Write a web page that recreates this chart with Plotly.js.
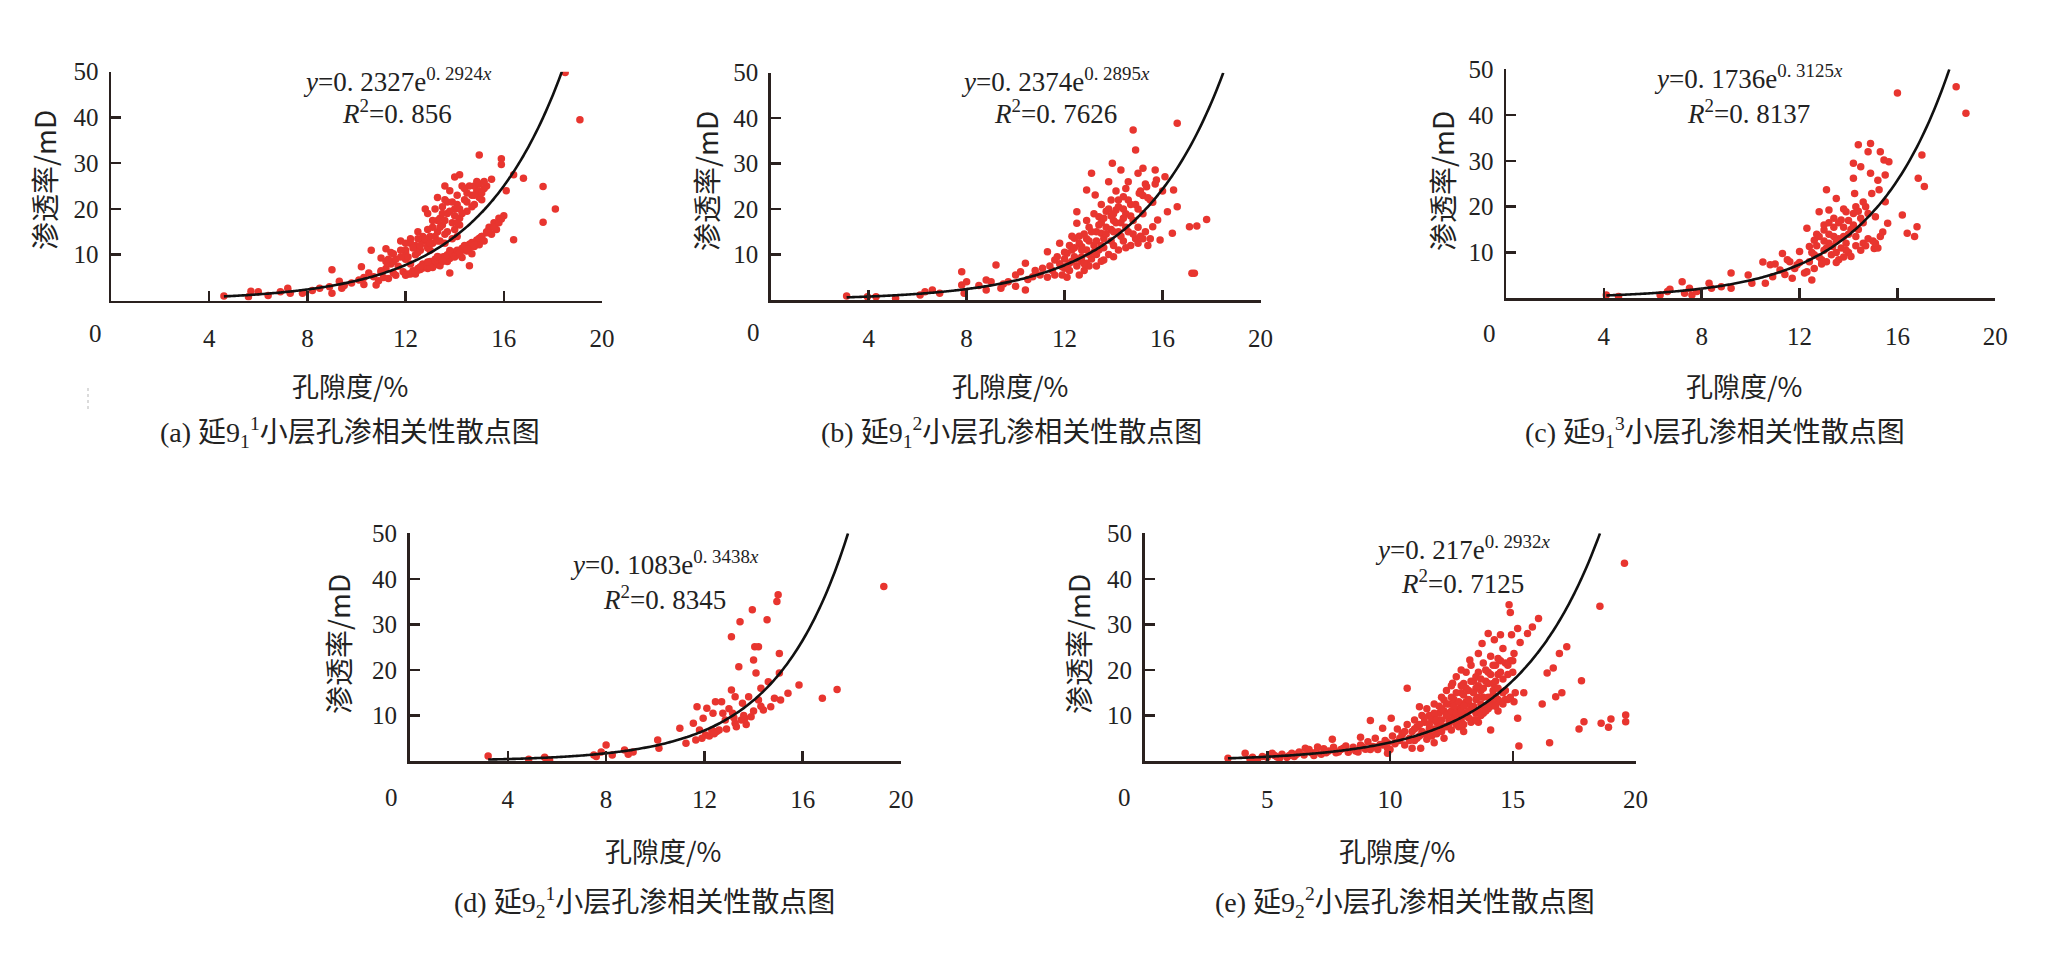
<!DOCTYPE html>
<html>
<head>
<meta charset="utf-8">
<script src="https://cdn.plot.ly/plotly-3.0.1.min.js"></script>
<style>html,body{margin:0;padding:0;background:#fff;}#chart{width:2050px;height:968px;}</style>
</head>
<body>
<div id="chart"></div>
<script>
// ---------------- DATA ----------------
const panelIds = ['a','b','c','d','e'];
const panelCaptions = [
  '(a) 延9<sub>1</sub><sup>1</sup>小层孔渗相关性散点图',
  '(b) 延9<sub>1</sub><sup>2</sup>小层孔渗相关性散点图',
  '(c) 延9<sub>1</sub><sup>3</sup>小层孔渗相关性散点图',
  '(d) 延9<sub>2</sub><sup>1</sup>小层孔渗相关性散点图',
  '(e) 延9<sub>2</sub><sup>2</sup>小层孔渗相关性散点图'
];
const xAxisTitle = '孔隙度/%';
const yAxisTitle = '渗透率/mD';
const fitA = [0.2327, 0.2374, 0.1736, 0.1083, 0.217];
const fitB = [0.2924, 0.2895, 0.3125, 0.3438, 0.2932];
const fitAText = ['0.2327', '0.2374', '0.1736', '0.1083', '0.217'];
const fitBText = ['0.2924', '0.2895', '0.3125', '0.3438', '0.2932'];
const fitR2Text = ['0.856', '0.7626', '0.8137', '0.8345', '0.7125'];
const curveStart = [4.6, 3.1, 4.1, 3.2, 3.4];
const xTicks4 = [4, 8, 12, 16, 20];
const xTicks5 = [5, 10, 15, 20];
const yTicks = [10, 20, 30, 40, 50];

const aPts = [[4.6,1.0],[5.6,0.8],[5.7,2.0],[6.0,1.9],[6.4,1.1],[6.9,1.9],[7.2,2.7],[7.3,1.6],[7.8,1.6],[8.2,2.2],[8.5,2.7],[8.9,3.0],[9.0,1.6],[9.0,6.7],[9.3,4.2],[9.4,2.7],[9.5,3.3],[9.8,3.8],[10.1,4.5],[10.2,7.4],[10.3,3.5],[10.3,5.0],[10.5,6.0],[10.6,11.0],[10.7,5.2],[10.8,3.4],[10.9,4.3],[11.0,9.3],[11.0,6.3],[11.1,5.0],[11.2,7.0],[11.2,11.3],[11.3,4.8],[11.4,8.0],[11.5,6.0],[11.5,10.2],[11.6,5.5],[11.7,7.5],[11.8,13.0],[11.9,6.3],[12.0,9.0],[12.0,11.0],[12.1,5.8],[12.2,8.0],[12.2,13.5],[12.3,6.5],[12.4,10.0],[12.4,12.0],[12.5,7.0],[12.5,15.0],[12.6,11.0],[12.7,8.0],[12.7,13.0],[12.8,20.0],[12.8,7.5],[12.9,11.5],[12.9,19.0],[13.0,14.0],[13.0,8.5],[13.1,12.5],[13.1,16.0],[13.2,20.0],[13.2,9.0],[13.3,15.0],[13.3,7.8],[13.4,13.0],[13.4,18.0],[13.5,9.5],[13.5,16.5],[13.6,22.0],[13.6,14.5],[13.7,8.5],[13.7,19.0],[13.8,24.0],[13.8,6.0],[13.9,17.0],[13.9,10.0],[14.0,27.0],[14.0,15.5],[14.1,10.5],[14.1,21.0],[14.2,27.5],[14.2,18.0],[14.3,11.0],[14.3,25.0],[14.4,22.0],[14.4,12.0],[14.5,19.5],[14.6,11.5],[14.6,7.6],[14.7,23.0],[14.7,12.5],[14.8,21.0],[14.9,13.0],[14.9,24.0],[15.0,31.8],[15.0,25.5],[15.1,14.0],[15.1,22.0],[15.2,24.5],[15.3,15.0],[15.3,25.0],[15.4,16.0],[15.5,26.5],[15.6,17.0],[15.8,18.0],[15.9,31.0],[15.9,29.7],[16.0,18.5],[16.1,24.0],[16.4,27.5],[16.4,13.3],[16.8,26.7],[17.6,24.9],[17.6,17.1],[18.1,20.0],[18.5,49.8],[19.1,39.5],
  [12.0,5.5],[12.3,6.2],[12.6,6.8],[12.9,7.0],[13.0,7.5],[13.2,8.0],[13.5,8.5],[13.8,9.2],[14.0,9.5],[14.2,10.0],[14.5,10.8],[14.8,11.8],[15.0,12.2],[15.2,13.0],[15.5,14.5],[15.7,15.5],
  [12.0,10.5],[12.2,12.5],[12.5,10.5],[13.0,11.0],[13.3,17.5],[13.5,20.5],[13.7,21.5],[14.0,20.0],[14.2,16.5],[14.5,23.5],[14.8,25.0],[15.0,22.5],[12.9,12.0],[13.6,12.5],[13.9,13.5],[14.1,14.0],[11.5,8.5],[11.8,9.5],[11.3,9.0],[12.7,14.0],[13.1,7.2],[13.4,7.6],[14.3,9.4],[14.7,10.2],[12.4,5.8]];
const aPtsBand = [[12.2,5.8],[12.4,6.3],[12.5,6.6],[12.7,7.1],[12.8,7.5],[13.0,8.0],[13.1,8.3],[13.2,8.6],[13.3,8.9],[13.4,9.1],[13.6,9.6],[13.7,10.0],[13.9,10.3],[14.0,10.6],[14.1,11.0],[14.3,11.4],[14.4,11.8],[14.6,12.3],[14.7,12.7],[14.9,13.2],[15.0,13.6],[15.1,14.0],[15.3,14.8],[15.4,15.3],[15.6,16.0],[15.8,17.0],[15.9,17.8],[13.0,7.3],[13.5,8.7],[14.2,10.5],[14.8,12.2],[12.6,7.4],[13.3,9.6],[13.8,10.9],[14.5,11.2],[12.9,8.4],
  [11.0,6.5],[11.2,8.5],[11.4,10.5],[11.6,9.0],[11.8,11.0],[12.0,12.5],[12.1,9.5],[12.3,11.5],[12.5,13.5],[12.6,12.0],[12.8,13.5],[12.9,15.5],[13.0,12.5],[13.1,17.5],[13.2,14.0],[13.3,13.0],[13.4,16.0],[13.5,19.0],[13.6,17.5],[13.7,15.0],[13.8,19.5],[13.9,21.5],[14.0,18.5],[14.1,23.0],[14.2,20.0],[14.3,19.0],[14.4,24.5],[14.5,21.5],[14.6,25.0],[14.7,20.5],[14.8,23.0],[14.9,26.0],[15.0,24.0],[15.1,23.5],[15.2,26.0],[13.3,22.5],[13.6,25.0],[14.1,17.0]];

const bPts = [[3.1,0.9],[3.95,0.7],[4.3,0.7],[5.1,0.4],[6.1,1.1],[6.3,1.8],[6.6,2.2],[6.9,1.5],[7.8,6.2],[7.8,3.3],[7.9,1.5],[8.0,4.0],[8.8,4.4],[8.8,2.2],[9.2,7.7],[9.4,2.6],[9.7,4.0],[10.0,5.5],[10.2,6.2],[10.4,8.1],[10.4,2.2],[10.7,5.1],[11.0,5.5],[11.3,10.6],[11.6,8.8],[11.8,12.5],[11.9,7.3],[12.1,10.3],[12.2,8.1],[12.4,13.6],[12.5,16.9],[12.5,19.4],[12.7,11.7],[12.9,24.2],[12.9,8.1],[13.1,27.9],[13.25,23.1],[13.4,18.3],[13.5,14.7],[13.6,8.8],[13.8,26.0],[13.95,30.1],[14.1,19.8],[14.3,28.6],[14.4,22.7],[14.6,26.0],[14.8,37.4],[14.9,33.0],[15.0,27.9],[15.05,23.5],[15.2,29.0],[15.35,24.9],[15.6,16.1],[15.7,28.6],[15.75,26.4],[15.8,17.6],[15.9,13.2],[16.1,27.1],[16.2,19.4],[16.4,14.7],[16.45,24.2],[16.6,38.9],[16.6,20.5],[17.1,16.1],[17.2,5.9],[17.3,5.9],[17.4,16.3],[17.8,17.7],
  [11.5,6.5],[11.7,9.5],[11.9,5.5],[12.0,7.0],[12.0,9.0],[12.2,6.5],[12.3,11.0],[12.4,9.5],[12.5,7.5],[12.6,12.5],[12.7,9.5],[12.8,14.5],[12.8,6.5],[12.9,11.0],[13.0,13.0],[13.0,16.0],[13.1,9.0],[13.2,12.0],[13.2,19.0],[13.3,15.0],[13.3,7.5],[13.4,11.0],[13.5,17.0],[13.5,21.0],[13.6,13.5],[13.7,16.0],[13.7,19.5],[13.8,10.0],[13.9,15.5],[13.9,22.0],[14.0,17.5],[14.0,12.0],[14.1,24.0],[14.2,15.0],[14.2,20.5],[14.3,17.0],[14.4,13.0],[14.5,19.0],[14.5,24.5],[14.6,15.0],[14.7,12.0],[14.7,21.0],[14.8,17.5],[14.9,13.5],[15.0,20.0],[15.1,14.0],[15.2,23.0],[15.3,25.5],[15.4,12.0],[15.5,22.0],[10.8,6.5],[11.1,7.0],[11.3,5.0],[10.5,4.5],[10.0,3.0],[9.5,3.5],[9.0,4.0],[8.5,3.2],[12.1,5.0],[12.6,5.5],[13.0,7.5],[13.5,8.5],[14.0,9.5],[14.5,11.5],[15.0,12.5],[15.2,13.5],[15.6,21.5],[15.7,25.5],[16.0,24.0],[12.3,14.0],[12.9,17.5],[13.6,11.5],[14.2,11.0],[13.3,10.0],[12.7,8.5],[14.4,18.0],[13.9,18.5]];
const bPtsCore = [[11.4,7.5],[11.6,5.5],[11.8,8.0],[12.0,10.5],[12.1,7.5],[12.2,12.0],[12.3,8.5],[12.4,11.5],[12.5,9.0],[12.6,14.0],[12.7,11.0],[12.8,8.0],[12.9,13.5],[13.0,10.0],[13.1,15.0],[13.2,10.5],[13.3,13.0],[13.4,16.5],[13.5,12.0],[13.6,18.0],[13.7,14.5],[13.8,20.0],[13.9,13.0],[14.0,15.0],[14.0,19.0],[14.1,17.0],[14.2,22.0],[14.3,14.0],[14.4,20.0],[14.5,16.0],[14.6,22.0],[14.7,18.5],[14.8,14.5],[14.9,21.0],[15.0,16.0],[15.1,24.0],[15.2,19.0],[15.3,15.0],[15.4,22.5],[15.5,13.5]];

const cPts = [[4.1,0.7],[4.6,0.4],[6.3,0.7],[6.6,1.5],[6.7,2.0],[7.2,3.6],[7.3,1.1],[7.5,2.2],[7.6,0.7],[7.8,1.5],[8.3,3.3],[8.4,2.2],[8.8,2.5],[9.2,2.2],[9.2,5.5],[9.9,5.1],[10.05,3.3],[10.5,7.9],[10.6,3.3],[10.8,7.3],[10.9,4.7],[11.2,6.2],[11.3,9.8],[11.5,8.4],[11.7,4.4],[11.9,7.3],[12.0,10.2],[12.2,5.5],[12.3,15.3],[12.4,11.3],[12.5,4.0],[12.6,12.7],[12.8,18.9],[12.9,8.4],[13.0,14.9],[13.1,23.7],[13.2,19.3],[13.35,11.3],[13.4,13.5],[13.5,21.8],[13.6,8.4],[13.7,17.1],[13.8,13.5],[13.9,18.9],[14.1,9.1],[14.2,29.5],[14.2,26.2],[14.25,22.9],[14.3,20.0],[14.4,33.5],[14.5,28.7],[14.6,12.0],[14.7,20.0],[14.8,32.0],[14.9,33.8],[14.9,27.3],[14.95,22.9],[15.05,10.9],[15.1,17.8],[15.2,25.8],[15.25,23.7],[15.3,32.0],[15.45,30.2],[15.5,26.9],[15.5,21.1],[15.6,16.4],[15.65,29.8],[16.0,44.8],[16.2,18.2],[16.4,14.2],[16.7,13.5],[16.8,15.6],[16.85,26.2],[17.0,31.3],[17.1,24.4],[18.4,46.2],[18.8,40.4],
  [12.5,10.0],[12.7,11.5],[12.8,9.0],[13.0,10.5],[13.0,16.0],[13.2,12.0],[13.3,9.5],[13.4,15.5],[13.5,10.0],[13.6,16.5],[13.7,11.0],[13.8,19.5],[13.9,12.0],[14.0,17.0],[14.0,10.0],[14.2,16.0],[14.3,11.5],[14.4,19.0],[14.5,17.5],[14.6,21.0],[14.7,11.5],[14.8,13.0],[15.0,12.5],[15.2,11.0],[15.3,13.5],[12.9,7.5],[12.6,6.5],[12.3,5.8],[12.0,7.8],[11.8,6.5],[11.6,8.0],[11.4,5.2],[11.0,7.5],[13.1,8.0],[13.5,7.8],[12.7,14.0],[13.2,16.5],[14.1,15.0],[13.8,9.0],
  [13.0,12.5],[13.2,14.0],[13.4,17.5],[13.6,13.0],[13.8,15.5],[14.0,14.0],[14.2,18.5],[14.4,15.0],[14.6,16.5],[14.8,18.5],[12.4,8.0],[12.6,9.5],[12.8,13.5],[13.1,11.0],[13.5,12.5],[13.9,10.5],[14.3,13.5],[14.5,10.5],[15.1,12.0],[15.4,14.5]];

const dPts = [[3.2,1.1],[4.85,0.4],[5.5,0.8],[5.7,0.2],[7.5,1.3],[7.6,1.0],[7.8,2.0],[8.0,3.5],[8.25,1.3],[8.75,2.4],[8.9,1.5],[9.1,2.0],[10.1,4.6],[10.15,2.8],[11.0,7.2],[11.25,3.9],[11.55,8.3],[11.65,4.6],[11.7,11.9],[11.8,6.8],[11.95,9.4],[12.05,5.7],[12.1,11.6],[12.3,6.8],[12.35,10.5],[12.45,13.0],[12.6,6.8],[12.7,13.0],[12.75,10.5],[12.85,9.0],[13.1,27.3],[13.1,15.6],[13.15,10.5],[13.25,14.1],[13.25,8.3],[13.4,20.7],[13.45,30.6],[13.55,12.7],[13.65,9.4],[13.8,14.1],[13.9,9.7],[13.95,33.2],[14.0,22.2],[14.05,25.1],[14.1,19.3],[14.2,25.1],[14.2,13.4],[14.3,16.0],[14.4,11.2],[14.55,31.0],[14.6,17.4],[14.7,11.9],[14.85,13.8],[14.95,35.0],[15.0,36.5],[15.05,23.6],[15.05,19.3],[15.1,13.4],[15.4,14.9],[15.85,16.7],[16.8,13.8],[17.4,15.7],[19.3,38.3],
  [13.3,7.5],[13.5,9.0],[13.7,8.0],[12.9,7.0],[13.0,11.5],[12.5,6.5],[12.2,5.5],[14.0,11.0],[14.3,12.0],[13.2,9.5],[13.6,10.0],[12.4,6.0],[11.9,5.0]];

const ePts = [[3.4,0.6],[4.1,1.7],[4.3,0.4],[4.6,0.2],[5.2,1.7],[5.5,0.6],[6.0,1.7],[6.55,2.8],[7.05,3.1],[7.65,4.8],[8.1,2.8],[8.8,5.2],[9.2,8.9],[9.45,3.1],[9.7,7.2],[9.9,1.7],[10.05,9.4],[10.5,6.1],[10.7,16.0],[10.9,2.8],[11.2,11.9],[11.25,2.8],[11.8,9.7],[12.2,13.4],[12.55,17.1],[12.9,20.0],[13.25,22.2],[13.6,23.6],[13.75,25.8],[14.0,28.0],[14.1,6.8],[14.25,26.6],[14.5,27.7],[14.6,24.7],[14.85,34.3],[14.9,32.6],[14.95,27.7],[15.05,23.6],[15.05,13.0],[15.1,15.0],[15.2,9.4],[15.2,29.1],[15.25,3.3],[15.3,26.0],[15.45,15.0],[15.6,28.0],[15.8,29.4],[16.05,31.3],[16.2,12.5],[16.4,19.3],[16.5,4.0],[16.65,20.4],[16.75,14.1],[16.9,23.6],[17.0,15.0],[17.2,25.1],[17.7,7.0],[17.8,17.6],[17.9,8.6],[18.55,34.0],[18.6,8.3],[18.9,7.4],[19.0,9.2],[19.55,43.4],[19.6,8.6],[19.6,10.1],
  [4.8,1.0],[5.0,0.8],[5.3,1.2],[5.6,1.5],[5.8,0.8],[6.1,1.0],[6.3,2.0],[6.5,1.3],[6.7,2.5],[6.8,1.8],[7.0,2.0],[7.2,1.5],[7.3,2.7],[7.5,2.2],[7.7,3.0],[7.8,1.8],[8.0,2.5],[8.2,3.3],[8.3,1.9],[8.5,3.0],[8.6,2.2],[8.8,3.5],[9.0,2.6],[9.1,4.2],[9.3,3.2],[9.4,5.0],[9.6,3.6],[9.8,4.5],[9.9,2.8],[10.1,5.5],[10.2,3.8],[10.3,7.0],[10.4,4.5],[10.5,5.8],[10.6,3.5],[10.7,8.0],[10.8,5.0],[10.9,6.5],[11.0,9.0],[11.0,4.5],[11.1,7.5],[11.2,5.5],[11.3,10.0],[11.3,6.5],[11.4,8.5],[11.5,4.8],[11.5,11.5],[11.6,7.0],[11.7,9.0],[11.7,5.5],[11.8,12.5],[11.9,6.0],[12.0,10.5],[12.0,8.0],[12.1,14.0],[12.1,6.5],[12.2,11.0],[12.3,7.5],[12.3,15.5],[12.4,9.0],[12.4,12.5],[12.5,6.8],[12.5,16.5],[12.6,10.0],[12.6,13.5],[12.7,8.0],[12.7,18.5],[12.8,11.5],[12.8,7.5],[12.9,15.0],[12.9,9.0],[13.0,17.0],[13.0,10.5],[13.0,8.0],[13.1,13.0],[13.1,19.5],[13.2,9.5],[13.2,15.5],[13.3,11.5],[13.3,21.0],[13.4,9.0],[13.4,17.5],[13.5,13.5],[13.5,10.5],[13.6,19.5],[13.6,11.0],[13.7,15.5],[13.7,12.5],[13.8,21.5],[13.8,10.5],[13.9,17.5],[13.9,12.0],[14.0,19.5],[14.0,11.5],[14.1,23.0],[14.1,13.0],[14.2,17.0],[14.2,12.5],[14.3,21.0],[14.3,14.0],[14.4,19.0],[14.4,13.5],[14.5,22.0],[14.6,15.0],[14.7,21.5],[14.7,13.5],[14.8,19.0],[14.9,14.0],[14.9,22.0],[13.0,6.5],[12.2,5.0],[11.8,4.0],[12.6,8.8],[13.2,12.5],[13.5,16.0],[12.9,12.5],[13.8,14.0],[14.2,15.5],[12.4,10.5],[11.9,8.5],[11.6,10.0],[12.0,12.0],[13.6,8.5],[14.4,11.0]];
const ePtsCore = [[10.2,4.0],[10.4,5.0],[10.6,6.5],[10.8,4.5],[11.0,7.0],[11.1,5.0],[11.2,8.0],[11.4,6.0],[11.4,9.5],[11.6,8.0],[11.6,5.8],[11.8,7.0],[11.8,10.5],[11.9,9.0],[12.0,6.5],[12.1,9.0],[12.1,11.5],[12.2,7.5],[12.3,10.0],[12.3,12.5],[12.4,8.0],[12.5,11.0],[12.5,14.0],[12.6,9.0],[12.6,12.0],[12.7,10.5],[12.7,15.0],[12.8,9.5],[12.8,13.0],[12.9,11.0],[12.9,16.5],[13.0,12.0],[13.0,14.5],[13.1,10.0],[13.1,16.0],[13.2,11.0],[13.2,13.5],[13.3,17.5],[13.3,8.5],[13.4,12.0],[13.4,15.0],[13.5,18.5],[13.5,9.0],[13.6,14.0],[13.6,16.5],[13.7,10.0],[13.7,18.0],[13.8,12.0],[13.8,16.0],[13.9,20.0],[13.9,11.0],[14.0,14.0],[14.0,17.0],[14.1,12.0],[14.1,19.0],[14.2,21.0],[14.2,14.5],[14.3,17.5],[14.3,12.0],[14.4,16.0],[14.4,22.5],[14.5,13.0],[14.5,19.5],[14.6,12.5],[14.6,18.0],[14.7,15.5],[14.8,21.0],[14.8,13.5],[15.0,22.0],[15.0,19.5],[9.5,2.5],[9.7,3.5],[9.9,4.0],[10.0,2.5],[8.7,2.0],[8.9,3.0],[9.2,2.5],[7.9,2.0],[7.4,1.8],[6.9,1.2],[6.2,1.5],[5.9,1.2],[5.4,0.9],[4.4,0.8]];

const panelPts = [aPts.concat(aPtsBand), bPts.concat(bPtsCore), cPts, dPts, ePts.concat(ePtsCore)];

// ---------------- LAYOUT GEOMETRY (pixels in a 2050x968 page) ----------------
const W = 2050, H = 968;
const px = v => v / W;
const py = v => 1 - v / H;
// [left(x=0), right(x=20), bottom(y=0), top(y=50)]
const boxes = [
  [111, 602, 300.5, 71.7],
  [770.7, 1260.5, 300, 72.7],
  [1506, 1995.3, 298.3, 69.3],
  [409.5, 901, 761, 533.3],
  [1144.5, 1635.5, 761, 533.3]
];
const zeroLabelPos = [[95, 333], [753.5, 332], [1489, 333], [391.7, 797], [1124, 797]];
const eqPos = [[397, 80, 112], [1055, 80, 112], [1748, 77, 112], [664, 563, 598], [1462, 548, 582]];
const xTitlePos = [[350, 386], [1010, 386], [1744, 386], [663, 850], [1397, 850]];
const yTitlePos = [[44, 180], [706, 181], [1442, 181], [338, 644], [1078, 644]];
const captionPos = [[350, 432], [1011, 432], [1715, 432], [644, 902], [1405, 902]];

const inkColor = '#2a211f';
const textColor = '#222222';
const dotColor = '#e8352f';
const latinFont = 'Liberation Serif, Noto Sans CJK SC, serif';
const cjkFont = 'Noto Sans CJK SC, sans-serif';

const traces = [];
const layout = {
  width: W, height: H,
  margin: {l: 0, r: 0, t: 0, b: 0},
  paper_bgcolor: '#fff', plot_bgcolor: 'rgba(0,0,0,0)',
  showlegend: false,
  annotations: [],
  shapes: []
};

panelIds.forEach((id, i) => {
  const n = i === 0 ? '' : String(i + 1);
  const b = boxes[i];
  const tv = (i === 4) ? xTicks5 : xTicks4;
  layout['xaxis' + n] = {
    domain: [px(b[0]), px(b[1])], range: [0, 20], anchor: 'y' + n,
    tickmode: 'array', tickvals: tv, ticktext: tv.map(String),
    ticks: 'inside', ticklen: 10, tickwidth: 2.5, tickcolor: inkColor,
    showline: true, linecolor: inkColor, linewidth: 2.5,
    showgrid: false, zeroline: false,
    tickfont: {family: latinFont, size: 25, color: textColor},
    ticklabelstandoff: 14, fixedrange: true
  };
  layout['yaxis' + n] = {
    domain: [py(b[2]), py(b[3])], range: [0, 50], anchor: 'x' + n,
    tickmode: 'array', tickvals: yTicks, ticktext: yTicks.map(String),
    ticks: 'inside', ticklen: 10, tickwidth: 2.5, tickcolor: inkColor,
    showline: true, linecolor: inkColor, linewidth: 2.5,
    showgrid: false, zeroline: false,
    tickfont: {family: latinFont, size: 25, color: textColor},
    ticklabelstandoff: 5, fixedrange: true
  };
  const pts = panelPts[i];
  traces.push({
    type: 'scatter', mode: 'markers',
    x: pts.map(p => p[0]), y: pts.map(p => p[1]),
    xaxis: 'x' + n, yaxis: 'y' + n,
    marker: {size: 7.5, color: dotColor, line: {width: 0}},
    hoverinfo: 'skip'
  });
  // fitted exponential, drawn from the equation printed on the chart
  const xEnd = Math.log(50 / fitA[i]) / fitB[i];
  const cx = [], cy = [];
  for (let k = 0; ; k++) {
    let xv = curveStart[i] + k * 0.1;
    if (xv > xEnd) xv = xEnd;
    cx.push(xv); cy.push(fitA[i] * Math.exp(fitB[i] * xv));
    if (xv >= xEnd) break;
  }
  traces.push({
    type: 'scatter', mode: 'lines', x: cx, y: cy,
    xaxis: 'x' + n, yaxis: 'y' + n,
    line: {color: '#111', width: 2.6, shape: 'spline'},
    hoverinfo: 'skip'
  });

  const A = layout.annotations;
  const common = {xref: 'paper', yref: 'paper', showarrow: false, xanchor: 'center', yanchor: 'middle'};
  A.push(Object.assign({}, common, {
    x: px(zeroLabelPos[i][0]), y: py(zeroLabelPos[i][1]), text: '0',
    font: {family: latinFont, size: 25, color: textColor}
  }));
  A.push(Object.assign({}, common, {
    x: px(eqPos[i][0]), y: py(eqPos[i][1]),
    text: '<i>y</i>=' + fitAText[i].replace('.', '. ') + 'e<sup>' + fitBText[i].replace('.', '. ') + '<i>x</i></sup>',
    font: {family: latinFont, size: 27, color: textColor}
  }));
  A.push(Object.assign({}, common, {
    x: px(eqPos[i][0]), y: py(eqPos[i][2]),
    text: '<i>R</i><sup>2</sup>=' + fitR2Text[i].replace('.', '. '),
    font: {family: latinFont, size: 27, color: textColor}
  }));
  A.push(Object.assign({}, common, {
    x: px(xTitlePos[i][0]), y: py(xTitlePos[i][1]), text: xAxisTitle,
    font: {family: cjkFont, size: 27, color: textColor}
  }));
  A.push(Object.assign({}, common, {
    x: px(yTitlePos[i][0]), y: py(yTitlePos[i][1]), text: yAxisTitle, textangle: -90,
    font: {family: cjkFont, size: 28, color: textColor}
  }));
  A.push(Object.assign({}, common, {
    x: px(captionPos[i][0]), y: py(captionPos[i][1]), text: panelCaptions[i],
    font: {family: latinFont, size: 28, color: textColor}
  }));
});

// faint dotted scan artefact left of panel (a)
layout.shapes.push({type: 'line', xref: 'paper', yref: 'paper',
  x0: px(88), x1: px(88), y0: py(388), y1: py(412),
  line: {color: '#cfcfcf', width: 1.5, dash: 'dot'}});

Plotly.newPlot('chart', traces, layout, {staticPlot: true, displayModeBar: false});
</script>
</body>
</html>
